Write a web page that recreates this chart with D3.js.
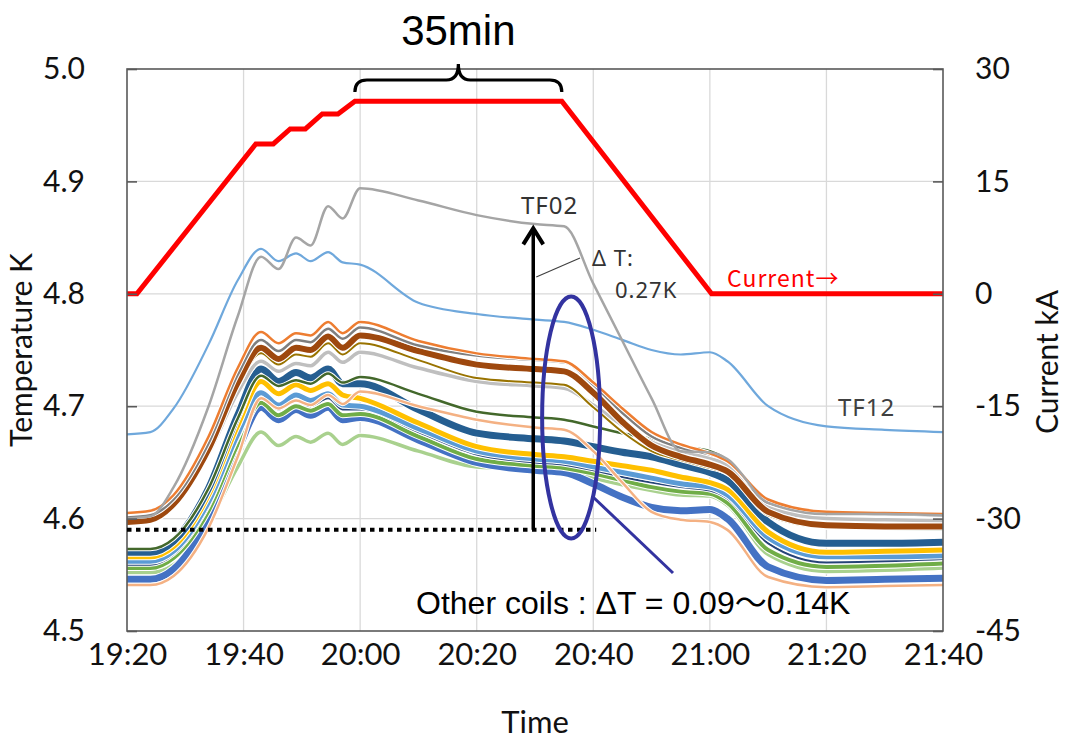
<!DOCTYPE html>
<html>
<head>
<meta charset="utf-8">
<script src="https://cdn.jsdelivr.net/npm/d3@7"></script>
<style>
  body { margin: 0; background: #fff; }
  svg { display: block; font-family: Lato, "Open Sans", sans-serif; }
</style>
</head>
<body>
<svg id="chart" width="1066" height="742"></svg>
<script>
// time of each temperature sample, minutes after 19:20
const tempMinutes = [0, 4, 8, 14, 19, 23, 26, 29, 31.5, 34.5, 37, 40, 50, 60, 70, 75, 80, 85, 90, 95, 100, 103, 110, 120, 130, 140];

// TF02 (grey) and TF12 (light blue), K
const tf02 = [4.600, 4.602, 4.628, 4.700, 4.780, 4.833, 4.822, 4.850, 4.843, 4.878, 4.867, 4.894, 4.883, 4.870, 4.862, 4.860, 4.809, 4.758, 4.707, 4.660, 4.659, 4.653, 4.614, 4.604, 4.604, 4.603];
const tf12 = [4.675, 4.677, 4.698, 4.755, 4.812, 4.840, 4.829, 4.836, 4.829, 4.837, 4.828, 4.826, 4.792, 4.782, 4.777, 4.775, 4.768, 4.759, 4.750, 4.746, 4.748, 4.740, 4.700, 4.682, 4.679, 4.677];

// the other coils, K
const coil01 = [4.605, 4.607, 4.621, 4.673, 4.734, 4.766, 4.756, 4.765, 4.763, 4.775, 4.765, 4.775, 4.758, 4.747, 4.742, 4.740, 4.721, 4.698, 4.677, 4.666, 4.658, 4.651, 4.617, 4.606, 4.605, 4.604];
const coil03 = [4.601, 4.603, 4.617, 4.667, 4.728, 4.759, 4.749, 4.759, 4.757, 4.769, 4.760, 4.770, 4.754, 4.745, 4.741, 4.739, 4.719, 4.694, 4.673, 4.663, 4.657, 4.652, 4.614, 4.605, 4.604, 4.603];
const coil04 = [4.597, 4.599, 4.613, 4.662, 4.721, 4.752, 4.742, 4.752, 4.750, 4.762, 4.752, 4.763, 4.749, 4.737, 4.733, 4.731, 4.712, 4.686, 4.665, 4.655, 4.648, 4.642, 4.606, 4.594, 4.593, 4.593];
const coil05 = [4.595, 4.597, 4.610, 4.658, 4.717, 4.747, 4.737, 4.746, 4.744, 4.756, 4.746, 4.756, 4.741, 4.725, 4.721, 4.719, 4.699, 4.677, 4.660, 4.652, 4.645, 4.640, 4.603, 4.592, 4.591, 4.591];
const coil06 = [4.599, 4.601, 4.613, 4.658, 4.712, 4.740, 4.731, 4.738, 4.736, 4.748, 4.739, 4.748, 4.734, 4.722, 4.718, 4.716, 4.701, 4.683, 4.668, 4.660, 4.654, 4.648, 4.610, 4.600, 4.599, 4.598];
const coil07 = [4.573, 4.573, 4.582, 4.627, 4.689, 4.727, 4.718, 4.723, 4.720, 4.729, 4.721, 4.726, 4.711, 4.695, 4.690, 4.688, 4.682, 4.676, 4.671, 4.664, 4.660, 4.652, 4.606, 4.592, 4.591, 4.590];
const coil08 = [4.541, 4.541, 4.549, 4.592, 4.655, 4.707, 4.698, 4.705, 4.701, 4.710, 4.702, 4.713, 4.700, 4.688, 4.681, 4.679, 4.660, 4.632, 4.606, 4.599, 4.597, 4.590, 4.548, 4.539, 4.540, 4.541];
const coil09 = [4.570, 4.570, 4.580, 4.627, 4.692, 4.733, 4.722, 4.730, 4.725, 4.733, 4.720, 4.720, 4.697, 4.676, 4.671, 4.669, 4.664, 4.659, 4.655, 4.648, 4.641, 4.634, 4.597, 4.578, 4.578, 4.579];
const coil10 = [4.566, 4.566, 4.575, 4.621, 4.683, 4.722, 4.711, 4.719, 4.714, 4.720, 4.710, 4.707, 4.685, 4.664, 4.657, 4.655, 4.651, 4.647, 4.643, 4.637, 4.632, 4.626, 4.588, 4.570, 4.571, 4.572];
const coil11 = [4.562, 4.562, 4.571, 4.615, 4.675, 4.712, 4.701, 4.710, 4.705, 4.711, 4.701, 4.700, 4.680, 4.660, 4.653, 4.651, 4.646, 4.641, 4.636, 4.631, 4.628, 4.621, 4.583, 4.566, 4.566, 4.567];
const coil13 = [4.559, 4.559, 4.568, 4.611, 4.671, 4.708, 4.697, 4.705, 4.700, 4.707, 4.697, 4.697, 4.677, 4.657, 4.650, 4.648, 4.643, 4.637, 4.632, 4.628, 4.625, 4.618, 4.578, 4.561, 4.562, 4.564];
const coil14 = [4.556, 4.556, 4.565, 4.607, 4.666, 4.703, 4.692, 4.700, 4.696, 4.702, 4.692, 4.693, 4.673, 4.653, 4.647, 4.645, 4.640, 4.634, 4.628, 4.624, 4.622, 4.614, 4.572, 4.557, 4.558, 4.560];
const coil15 = [4.546, 4.546, 4.555, 4.600, 4.661, 4.699, 4.688, 4.697, 4.692, 4.699, 4.688, 4.690, 4.670, 4.650, 4.643, 4.641, 4.631, 4.619, 4.610, 4.607, 4.608, 4.600, 4.557, 4.545, 4.546, 4.547];
const coil16 = [4.552, 4.552, 4.559, 4.596, 4.646, 4.677, 4.665, 4.673, 4.668, 4.676, 4.666, 4.674, 4.660, 4.646, 4.644, 4.643, 4.636, 4.630, 4.625, 4.621, 4.620, 4.612, 4.568, 4.553, 4.554, 4.556];

// coil current, kA
const currentMinutes = [0, 1.7, 22.1, 25.1, 28, 30.6, 33.5, 36.2, 39.1, 74.6, 100.3, 140];
const currentKA = [0, 0, 20, 20, 22, 22, 24, 24, 25.7, 25.7, 0, 0];

const timeTicks = ["19:20", "19:40", "20:00", "20:20", "20:40", "21:00", "21:20", "21:40"];
const tempTicks = [4.5, 4.6, 4.7, 4.8, 4.9, 5.0];
const currentTicks = [-45, -30, -15, 0, 15, 30];

// annotation values
const refLevel = 4.59;        // dotted base line
const refEndMinute = 80.5;
const arrowMinute = 69.7;
const tf02Hold = 4.86;

const parseHM = d3.timeParse("%H:%M");
const t0 = parseHM(timeTicks[0]);
const at = m => new Date(t0.getTime() + m * 60000);

const pL = 127, pR = 943, pT = 69, pB = 631;
const x = d3.scaleTime().domain([t0, parseHM(timeTicks[timeTicks.length - 1])]).range([pL, pR]);
const yT = d3.scaleLinear().domain([4.5, 5.0]).range([pB, pT]);
const yI = d3.scaleLinear().domain([-45, 30]).range([pB, pT]);

const svg = d3.select("#chart");

// grid
const grid = svg.append("g").attr("stroke", "#d9d9d9").attr("stroke-width", 1.3);
grid.selectAll(".gx").data(timeTicks.slice(1, -1)).enter().append("line")
  .attr("x1", d => x(parseHM(d))).attr("x2", d => x(parseHM(d)))
  .attr("y1", pT).attr("y2", pB);
grid.selectAll(".gy").data(tempTicks.slice(1, -1)).enter().append("line")
  .attr("y1", d => yT(d)).attr("y2", d => yT(d))
  .attr("x1", pL).attr("x2", pR);

// temperature lines
const tempLine = vals => d3.line()
  .x((d, i) => x(at(tempMinutes[i])))
  .y(d => yT(d))
  .curve(d3.curveMonotoneX)(vals);

const coils = [
  { v: coil16, c: "#a9d18e", w: 3.5 },
  { v: coil15, c: "#4472c4", w: 7 },
  { v: coil14, c: "#70ad47", w: 4 },
  { v: coil13, c: "#264478", w: 2 },
  { v: coil11, c: "#5b9bd5", w: 5 },
  { v: coil10, c: "#ffc000", w: 5 },
  { v: coil09, c: "#255e91", w: 7 },
  { v: coil08, c: "#f4b183", w: 2.5 },
  { v: coil07, c: "#43682b", w: 2.5 },
  { v: coil06, c: "#bfbfbf", w: 3.5 },
  { v: coil05, c: "#997300", w: 2 },
  { v: coil04, c: "#9e480e", w: 6 },
  { v: coil03, c: "#7f7f7f", w: 2.5 },
  { v: coil01, c: "#ed7d31", w: 2.5 }
];

const band = svg.append("g").attr("fill", "none");
coils.forEach(s => {
  band.append("path").attr("d", tempLine(s.v)).attr("stroke", "#fff").attr("stroke-width", s.w + 2);
  band.append("path").attr("d", tempLine(s.v)).attr("stroke", s.c).attr("stroke-width", s.w);
});

svg.append("path").attr("d", tempLine(tf12)).attr("fill", "none")
  .attr("stroke", "#6fa8dc").attr("stroke-width", 2.2);
svg.append("path").attr("d", tempLine(tf02)).attr("fill", "none")
  .attr("stroke", "#a5a5a5").attr("stroke-width", 2.5);

// current
svg.append("path")
  .attr("d", d3.line().x((d, i) => x(at(currentMinutes[i]))).y(d => yI(d))(currentKA))
  .attr("fill", "none").attr("stroke", "#ff0000").attr("stroke-width", 5)
  .attr("stroke-linejoin", "miter");

// frame
svg.append("rect").attr("x", pL).attr("y", pT)
  .attr("width", pR - pL).attr("height", pB - pT)
  .attr("fill", "none").attr("stroke", "#595959").attr("stroke-width", 1.6);

// axes
const fmtTime = d3.timeFormat("%H:%M");
const ax = svg.append("g").attr("transform", `translate(0,${pB})`)
  .call(d3.axisBottom(x).tickValues(timeTicks.map(parseHM)).tickFormat(fmtTime).tickSize(0).tickPadding(12));
const ayl = svg.append("g").attr("transform", `translate(${pL},0)`)
  .call(d3.axisLeft(yT).tickValues(tempTicks).tickFormat(d3.format(".1f")).tickSize(-10).tickPadding(42));
const ayr = svg.append("g").attr("transform", `translate(${pR},0)`)
  .call(d3.axisRight(yI).tickValues(currentTicks).tickFormat(d => String(d)).tickSize(-10).tickPadding(32));
[ax, ayl, ayr].forEach(g => {
  g.select(".domain").remove();
  g.selectAll(".tick line").attr("stroke", "#595959").attr("stroke-width", 1.6);
  g.selectAll(".tick text").attr("fill", "#111").style("font-size", "30px").style("font-family", "Lato, sans-serif");
});
ax.selectAll(".tick text").style("font-size", "31px");

svg.append("text").attr("transform", "translate(32,350) rotate(-90)")
  .attr("text-anchor", "middle").style("font-size", "30px").attr("fill", "#111").text("Temperature K");
svg.append("text").attr("transform", "translate(1058,362) rotate(-90)")
  .attr("text-anchor", "middle").style("font-size", "30px").attr("fill", "#111").text("Current kA");
svg.append("text").attr("x", 535).attr("y", 733)
  .attr("text-anchor", "middle").style("font-size", "31px").attr("fill", "#111").text("Time");

// reference dotted line and arrow
svg.append("line")
  .attr("x1", pL).attr("x2", x(at(refEndMinute)))
  .attr("y1", yT(refLevel)).attr("y2", yT(refLevel))
  .attr("stroke", "#000").attr("stroke-width", 4).attr("stroke-dasharray", "4.5 4.5");

const xa = x(at(arrowMinute));
const ya = yT(tf02Hold);
svg.append("line").attr("x1", xa).attr("x2", xa)
  .attr("y1", yT(refLevel)).attr("y2", ya + 3)
  .attr("stroke", "#000").attr("stroke-width", 3.5);
svg.append("path")
  .attr("d", `M${xa - 10},${ya + 18}L${xa},${ya + 2}L${xa + 10},${ya + 18}`)
  .attr("fill", "none").attr("stroke", "#000").attr("stroke-width", 4).attr("stroke-linejoin", "miter");
svg.append("line").attr("x1", xa + 3).attr("y1", 277).attr("x2", 580).attr("y2", 258)
  .attr("stroke", "#404040").attr("stroke-width", 1.2);

// 35 min brace over the flat top
const bx1 = x(at(currentMinutes[8])), bx2 = x(at(currentMinutes[9]));
const bm = (bx1 + bx2) / 2;
svg.append("path")
  .attr("d", `M${bx1},92 Q${bx1},80 ${bx1 + 12},80 L${bm - 12},80 Q${bm},80 ${bm},64 Q${bm},80 ${bm + 12},80 L${bx2 - 12},80 Q${bx2},80 ${bx2},92`)
  .attr("fill", "none").attr("stroke", "#000").attr("stroke-width", 3.2);
svg.append("text").attr("x", bm).attr("y", 45).attr("text-anchor", "middle")
  .style("font-family", "'Liberation Sans', Arial, sans-serif").style("font-size", "42px").text("35min");

// ellipse around the other coils
const ex = x(at(76.2)), ey = yT(4.690);
svg.append("ellipse").attr("cx", ex).attr("cy", ey).attr("rx", 29).attr("ry", 121)
  .attr("fill", "none").attr("stroke", "#3333a0").attr("stroke-width", 4);
svg.append("line").attr("x1", 592).attr("y1", 496).attr("x2", 673).attr("y2", 573)
  .attr("stroke", "#3333a0").attr("stroke-width", 3);

// labels
const lab = (t, xx, yy, size, col, fam) => svg.append("text").attr("x", xx).attr("y", yy)
  .style("font-family", fam || "'Noto Sans', sans-serif").style("font-size", size + "px")
  .style("letter-spacing", "1px").attr("fill", col).text(t);
lab("TF02", 521, 214, 24, "#333");
lab("Δ T:", 592, 266, 22, "#333");
lab("0.27K", 615, 298, 22, "#333");
lab("Current→", 727, 287, 23, "#ff0000", "'Noto Sans CJK JP', 'Noto Sans', sans-serif");
lab("TF12", 838, 416, 24, "#404040");

svg.append("text").attr("x", 416).attr("y", 614)
  .style("font-family", "'Liberation Sans', Arial, 'Noto Sans CJK JP', sans-serif")
  .style("font-size", "32px").attr("fill", "#000")
  .text("Other coils : ΔT = 0.09～0.14K");
</script>
</body>
</html>
